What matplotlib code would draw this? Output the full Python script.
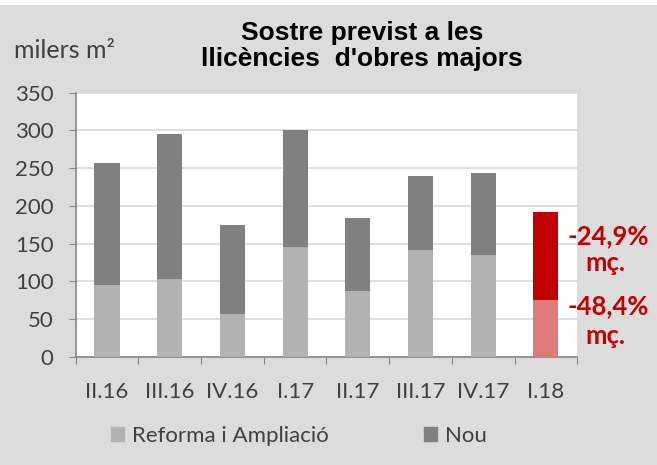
import matplotlib
matplotlib.use("Agg")
import matplotlib.pyplot as plt
from matplotlib.patches import Rectangle

# dades (milers m2)
trimestres = ["II.16", "III.16", "IV.16", "I.17", "II.17", "III.17", "IV.17", "I.18"]
reforma = [95, 103, 57, 145, 87, 141, 135, 75]
nou = [162, 192, 118, 155, 97, 99, 108, 117]
var_nou = "-24,9%"
var_reforma = "-48,4%"

gris_fons = "#dcdcdc"
c_ref = "#b2b2b2"
c_nou = "#808080"
c_ref_ult = "#e07b7b"
c_nou_ult = "#c00000"
c_text = "#404040"

fig = plt.figure(figsize=(6.57, 4.65), dpi=100, facecolor="white")
fig.patches.append(Rectangle((0, 0), 1, 460/465, transform=fig.transFigure,
                             facecolor=gris_fons, edgecolor="none", zorder=-10))
ax = fig.add_axes([0.1152, 0.2329, 0.7635, 0.5678])
ax.set_facecolor("white")

x = list(range(len(trimestres)))
col_ref = [c_ref]*(len(x)-1) + [c_ref_ult]
col_nou = [c_nou]*(len(x)-1) + [c_nou_ult]
ax.bar(x, reforma, width=0.4, color=col_ref, zorder=3)
ax.bar(x, nou, width=0.4, bottom=reforma, color=col_nou, zorder=3)

ax.set_xlim(-0.5, len(x)-0.5)
ax.set_ylim(0, 350)
ax.set_yticks(range(0, 351, 50))
ax.yaxis.grid(True, color="#d9d9d9", lw=1.2, zorder=0)

# ticks x: marques als limits, etiquetes al centre
ax.set_xticks([i-0.5 for i in range(len(x)+1)])
ax.set_xticklabels([])
ax.set_xticks(x, minor=True)
ax.set_xticklabels(trimestres, minor=True)
ax.tick_params(axis="x", which="major", length=5, color="#868686", direction="out")
ax.tick_params(axis="x", which="minor", length=0, pad=18, labelsize=16, labelcolor=c_text)
ax.tick_params(axis="y", length=5, color="#868686", pad=11, labelsize=16, labelcolor=c_text)
for lab in ax.get_xticklabels(minor=True) + ax.get_yticklabels():
    lab.set_family("Lato")

for s in ["top", "right"]:
    ax.spines[s].set_visible(False)
for s in ["left", "bottom"]:
    ax.spines[s].set_color("#868686")
    ax.spines[s].set_linewidth(1.2)

# anotacions variacio
ult = len(x)-1
kw = dict(color=c_nou_ult, fontsize=18.5, fontweight="bold", family="Lato",
          ha="center", va="center", clip_on=False)
ax.text(ult+1.0, reforma[ult] + nou[ult]*0.73, var_nou, **kw)
ax.text(ult+0.95, reforma[ult] + nou[ult]*0.42, "mç.", **kw)
ax.text(ult+1.0, reforma[ult]*0.9, var_reforma, **kw)
ax.text(ult+0.95, reforma[ult]*0.37, "mç.", **kw)

fig.text(0.551, 0.901, "Sostre previst a les\nllicències  d'obres majors", ha="center", va="center",
         fontsize=19, fontweight="bold", family="Liberation Sans", linespacing=1.15, color="black")
fig.text(0.022, 0.892, "milers m²", ha="left", va="center", fontsize=18, family="Lato", color=c_text)

leg = fig.legend(handles=[Rectangle((0, 0), 1, 1, color=c_ref), Rectangle((0, 0), 1, 1, color=c_nou)],
                 labels=["Reforma i Ampliació", "Nou"], loc="center", bbox_to_anchor=(0.455, 0.062),
                 ncol=2, frameon=False, handlelength=0.6, handleheight=0.6, handletextpad=0.35,
                 columnspacing=4.3, prop={"family": "Lato", "size": 16})
for t in leg.get_texts():
    t.set_color(c_text)

fig.savefig("out.png", dpi=100, facecolor=fig.get_facecolor())
